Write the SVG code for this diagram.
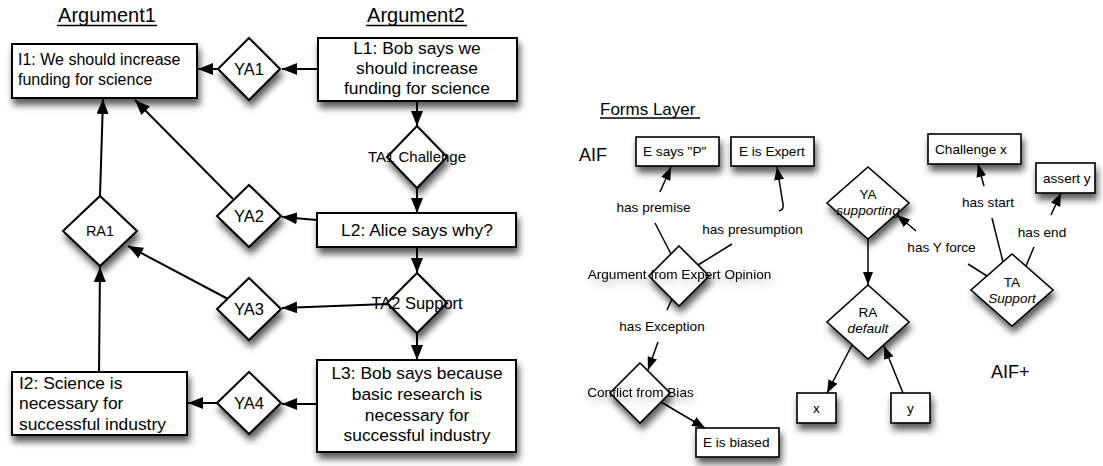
<svg xmlns="http://www.w3.org/2000/svg" width="1103" height="466" viewBox="0 0 1103 466">
  <defs>
    <filter id="shadow" x="-30%" y="-30%" width="170%" height="190%">
      <feDropShadow dx="2" dy="6" stdDeviation="3.5" flood-color="#000" flood-opacity="0.65"/>
    </filter>
    <filter id="textShadow" x="-10%" y="-50%" width="120%" height="250%">
      <feDropShadow dx="1" dy="4" stdDeviation="4" flood-color="#000" flood-opacity="0.35"/>
    </filter>
    <marker id="arrowBig" markerUnits="userSpaceOnUse" markerWidth="16" markerHeight="12" refX="15" refY="6" orient="auto">
      <path d="M0,0 L15,6 L0,12 z" fill="#000"/>
    </marker>
    <marker id="arrowSmall" markerUnits="userSpaceOnUse" markerWidth="14" markerHeight="10" refX="13" refY="5" orient="auto">
      <path d="M0,0 L13,5 L0,10 z" fill="#000"/>
    </marker>
  </defs>
  <style>
    text { font-family: "Liberation Sans", Arial, Helvetica, sans-serif; fill: #000; }
    .title { font-size: 20px; text-anchor: middle; }
    .layer { font-size: 17px; }
    .big { font-size: 18px; }
    .box { fill: #fff; stroke: #000; stroke-width: 2; filter: url(#shadow); }
    .dia { fill: #fff; stroke: #000; stroke-width: 2; filter: url(#shadow); }
    .sbox { fill: #fff; stroke: #000; stroke-width: 1.6; filter: url(#shadow); }
    .sdia { fill: #fff; stroke: #000; stroke-width: 1.6; filter: url(#shadow); }
    .t16 { font-size: 16px; }
    .t17 { font-size: 17.4px; }
    .c { text-anchor: middle; }
    .ya { font-size: 16.5px; text-anchor: middle; }
    .lbl { font-size: 13.6px; }
    .it { font-style: italic; }
    .edge { fill: none; stroke: #000; stroke-width: 2; }
    .edge.a { marker-end: url(#arrowBig); }
    .sedge { fill: none; stroke: #000; stroke-width: 1.5; }
    .sedge.a { marker-end: url(#arrowSmall); }
    .uline { stroke: #000; stroke-width: 1.5; }
  </style>

  <rect width="1103" height="466" fill="#fff"/>

  <!-- headings -->
  <g id="headings">
    <text class="title" x="107" y="22">Argument1</text>
    <line class="uline" x1="57" y1="25.5" x2="157" y2="25.5"/>
    <text class="title" x="416" y="22">Argument2</text>
    <line class="uline" x1="366" y1="25.5" x2="467" y2="25.5"/>
    <text class="layer" x="600" y="115">Forms Layer</text>
    <line class="uline" x1="600" y1="118" x2="700" y2="118"/>
    <text class="big" x="579" y="161">AIF</text>
    <text class="big" x="991" y="378">AIF+</text>
  </g>

  <!-- connectors -->
  <g id="connectors">
    <path class="edge a" d="M318,69 L282,69"/>
    <path class="edge a" d="M217,69 L198,69"/>
    <path class="edge a" d="M417,101 L417,126"/>
    <path class="edge a" d="M417,188 L417,213"/>
    <path class="edge a" d="M317,220 L282,217"/>
    <path class="edge a" d="M233,199 L135,100"/>
    <path class="edge a" d="M417,247 L417,273"/>
    <path class="edge a" d="M387,304 L282,308"/>
    <path class="edge a" d="M417,333 L417,360"/>
    <path class="edge a" d="M228,299 L128,246"/>
    <path class="edge a" d="M100,196 L103,99"/>
    <path class="edge a" d="M99,372 L100,267"/>
    <path class="edge a" d="M317,404 L282,404"/>
    <path class="edge a" d="M217,403 L188,403"/>

    <path class="sedge a" d="M660,192 L671,167"/>
    <path class="sedge" d="M671,254 L655,223"/>
    <path class="sedge" d="M698,265 L732,244"/>
    <path class="sedge a" d="M779,211 C782,210 784,208 783,204 L777,167"/>
    <path class="sedge" d="M672,299 L667,310"/>
    <path class="sedge a" d="M658,342 L648,370"/>
    <path class="sedge a" d="M661,402 L705,428"/>
    <path class="sedge a" d="M868,239 L868,285"/>
    <path class="sedge a" d="M852,345 L827,393"/>
    <path class="sedge a" d="M903,393 L884,346"/>
    <path class="sedge" d="M987,276 L968,264"/>
    <path class="sedge a" d="M916,231 L897,215"/>
    <path class="sedge" d="M1003,262 L992,218"/>
    <path class="sedge a" d="M984,186 L978,164"/>
    <path class="sedge" d="M1026,266 L1034,247"/>
    <path class="sedge a" d="M1051,215 L1061,193"/>
  </g>

  <!-- Argument1 -->
  <g id="I1">
    <rect class="box" x="12" y="44" width="185" height="54"/>
    <text class="t16" x="18" y="65">I1: We should increase</text>
    <text class="t16" x="18" y="85">funding for science</text>
  </g>
  <g id="I2">
    <rect class="box" x="12" y="372" width="175" height="63"/>
    <text class="t17" x="19" y="389">I2: Science is</text>
    <text class="t17" x="19" y="409">necessary for</text>
    <text class="t17" x="19" y="430">successful industry</text>
  </g>
  <g id="RA1">
    <polygon class="dia" points="100,196 137,231 100,266 63,231"/>
    <text class="c" style="font-size:14.5px" x="100" y="236">RA1</text>
  </g>
  <g id="YA1">
    <polygon class="dia" points="249,38 280,69 249,100 218,69"/>
    <text class="ya" x="249" y="75">YA1</text>
  </g>
  <g id="YA2">
    <polygon class="dia" points="249,185 281,216 249,247 217,216"/>
    <text class="ya" x="249" y="222">YA2</text>
  </g>
  <g id="YA3">
    <polygon class="dia" points="249,278 281,309 249,340 217,309"/>
    <text class="ya" x="249" y="315">YA3</text>
  </g>
  <g id="YA4">
    <polygon class="dia" points="249,372 281,403 249,434 217,403"/>
    <text class="ya" x="249" y="409">YA4</text>
  </g>

  <!-- Argument2 -->
  <g id="L1">
    <rect class="box" x="318" y="38" width="199" height="63"/>
    <text class="t17 c" x="417" y="54">L1: Bob says we</text>
    <text class="t17 c" x="417" y="74">should increase</text>
    <text class="t17 c" x="417" y="94">funding for science</text>
  </g>
  <g id="TA1">
    <polygon class="dia" points="417,126 447,157 417,188 387,157"/>
    <text class="c" style="font-size:15px" x="417" y="162">TA1 Challenge</text>
  </g>
  <g id="L2">
    <rect class="box" x="317" y="213" width="199" height="34"/>
    <text class="t17 c" x="417" y="236">L2: Alice says why?</text>
  </g>
  <g id="TA2">
    <polygon class="dia" points="417,273 447,303 417,333 387,303"/>
    <text class="c" style="font-size:16.5px" x="417" y="309">TA2 Support</text>
  </g>
  <g id="L3">
    <rect class="box" x="317" y="360" width="199" height="92"/>
    <text class="t17 c" x="417" y="379">L3: Bob says because</text>
    <text class="t17 c" x="417" y="400">basic research is</text>
    <text class="t17 c" x="417" y="421">necessary for</text>
    <text class="t17 c" x="417" y="441">successful industry</text>
  </g>

  <!-- Forms layer: AIF -->
  <g id="ESaysP">
    <rect class="sbox" x="636" y="137" width="83" height="29"/>
    <text class="lbl" x="643" y="156">E says "P"</text>
  </g>
  <g id="EIsExpert">
    <rect class="sbox" x="731" y="137" width="83" height="29"/>
    <text class="lbl" x="739" y="156">E is Expert</text>
  </g>
  <g id="hasPremise">
    <text class="lbl c" x="653.5" y="212">has premise</text>
  </g>
  <g id="hasPresumption">
    <text class="lbl c" x="752.5" y="234">has presumption</text>
  </g>
  <g id="ExpertOpinion">
    <polygon class="sdia" points="679,246 709,276 679,306 649,276"/>
    <text class="lbl c" x="679.5" y="279" filter="url(#textShadow)">Argument from Expert Opinion</text>
  </g>
  <g id="hasException">
    <text class="lbl c" x="662" y="331">has Exception</text>
  </g>
  <g id="ConflictBias">
    <polygon class="sdia" points="640,363 670,393 640,423 610,393"/>
    <text class="lbl c" x="640.5" y="397" filter="url(#textShadow)">Conflict from Bias</text>
  </g>
  <g id="EIsBiased">
    <rect class="sbox" x="696" y="428" width="83" height="29"/>
    <text class="lbl" x="703" y="447">E is biased</text>
  </g>

  <!-- Forms layer: AIF+ -->
  <g id="YASupporting">
    <polygon class="sdia" points="868,167 909,203 868,239 827,203"/>
    <text class="lbl c" x="868" y="199">YA</text>
    <text class="lbl c it" x="868" y="215">supporting</text>
  </g>
  <g id="RADefault">
    <polygon class="sdia" points="868,285 909,322 868,359 827,322"/>
    <text class="lbl c" x="868" y="317">RA</text>
    <text class="lbl c it" x="868" y="333">default</text>
  </g>
  <g id="X">
    <rect class="sbox" x="797" y="393" width="39" height="30"/>
    <text class="lbl c" x="816.5" y="413">x</text>
  </g>
  <g id="Y">
    <rect class="sbox" x="891" y="393" width="39" height="30"/>
    <text class="lbl c" x="910.5" y="413">y</text>
  </g>
  <g id="ChallengeX">
    <rect class="sbox" x="928" y="134" width="93" height="30"/>
    <text class="lbl" x="935" y="154">Challenge x</text>
  </g>
  <g id="AssertY">
    <rect class="sbox" x="1036" y="163" width="59" height="30"/>
    <text class="lbl" x="1043" y="183">assert y</text>
  </g>
  <g id="hasStart">
    <text class="lbl c" x="988" y="207">has start</text>
  </g>
  <g id="hasEnd">
    <text class="lbl c" x="1042" y="237">has end</text>
  </g>
  <g id="hasYForce">
    <text class="lbl c" x="941.5" y="252">has Y force</text>
  </g>
  <g id="TASupport">
    <polygon class="sdia" points="1012,254 1053,290 1012,326 971,290"/>
    <text class="lbl c" x="1012" y="287">TA</text>
    <text class="lbl c it" x="1012" y="303">Support</text>
  </g>
</svg>
